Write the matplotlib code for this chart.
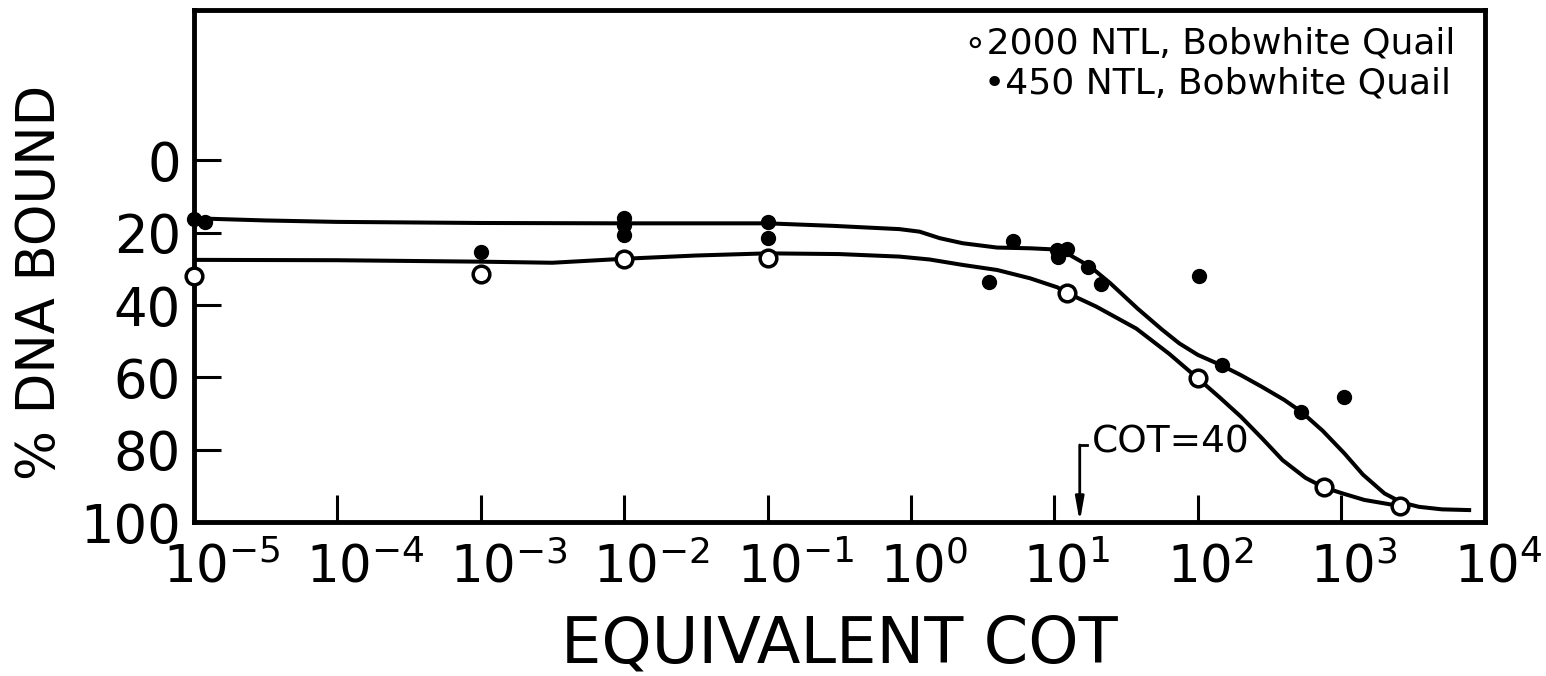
import numpy as np
import matplotlib
matplotlib.use('Agg')
import matplotlib.pyplot as plt
from matplotlib.transforms import ScaledTranslation

# open circles - 2000 NTL, Bobwhite Quail
open_x = [1e-5, 1e-3, 1e-2, 1e-1, 12.2, 100, 750, 2550]
open_y = [32.1, 31.4, 27.2, 27.1, 36.6, 60.3, 90.4, 95.6]

# filled dots - 450 NTL, Bobwhite Quail
filled_x = [1e-5, 1.2e-5, 1e-3, 1e-2, 1e-2, 1e-2, 1e-1, 1e-1, 3.5, 5.1,
            10.4, 10.6, 12.2, 17.2, 21, 102, 148, 525, 1047]
filled_y = [16.2, 16.9, 25.2, 16.0, 17.8, 20.6, 17.1, 21.5, 33.7, 22.3,
            24.8, 26.8, 24.6, 29.4, 34.2, 31.9, 56.6, 69.5, 65.5]

# hand drawn curves (log10 cot, % bound)
open_curve_logx = [-5.0, -4.0, -3.0, -2.5, -2.0, -1.5, -1.0, -0.5, -0.08, 0.13,
                   0.36, 0.6, 0.83, 1.02, 1.085, 1.29, 1.57, 1.8, 2.0, 2.15,
                   2.3, 2.45, 2.59, 2.75, 2.876, 3.0, 3.16, 3.41]
open_curve_y = [27.5, 27.6, 28.0, 28.3, 27.2, 26.3, 25.7, 25.9, 26.6, 27.4,
                28.9, 30.3, 32.6, 35.1, 36.6, 40.4, 46.5, 53.5, 60.3, 65.5,
                70.9, 77.0, 82.9, 87.8, 90.4, 92.0, 93.9, 95.6]

filled_curve_logx = [-5.0, -4.5, -4.0, -3.0, -2.0, -1.0, -0.54, -0.08, 0.06, 0.2,
                     0.36, 0.6, 0.83, 0.99, 1.1, 1.25, 1.39, 1.58, 1.75, 1.87,
                     2.0, 2.16, 2.3, 2.445, 2.6, 2.72, 2.87, 3.02, 3.15, 3.3,
                     3.42, 3.54, 3.7, 3.89]
filled_curve_y = [16.0, 16.6, 17.0, 17.3, 17.4, 17.4, 18.1, 19.0, 19.7, 21.5,
                  22.9, 24.1, 24.3, 24.6, 26.0, 29.4, 34.0, 41.0, 46.8, 50.6,
                  53.8, 56.6, 59.4, 62.6, 66.2, 69.5, 74.8, 81.0, 86.9, 92.1,
                  94.6, 95.8, 96.5, 96.7]

xtick_vals = [1e-5, 1e-4, 1e-3, 1e-2, 1e-1, 1e0, 1e1, 1e2, 1e3, 1e4]
xtick_labels = [r'$10^{-5}$', r'$10^{-4}$', r'$10^{-3}$', r'$10^{-2}$', r'$10^{-1}$',
                r'$10^{0}$', r'$10^{1}$', r'$10^{2}$', r'$10^{3}$', r'$10^{4}$']
ytick_vals = [0, 20, 40, 60, 80, 100]

cot_arrow_x = 15
cot_text = 'COT=40'

fig = plt.figure(figsize=(15.46, 6.76), dpi=100)
ax = fig.add_axes([0.1252, 0.2278, 0.8353, 0.7574])

ax.plot(10 ** np.array(open_curve_logx), open_curve_y, color='black', lw=2.9,
        solid_joinstyle='round', zorder=2)
ax.plot(10 ** np.array(filled_curve_logx), filled_curve_y, color='black', lw=2.9,
        solid_joinstyle='round', zorder=2)

ax.plot(open_x, open_y, 'o', ms=12, mfc='white', mec='black', mew=2.5,
        clip_on=False, zorder=4)
ax.plot(filled_x, filled_y, 'o', ms=10, color='black', clip_on=False, zorder=4)

ax.set_xscale('log')
ax.set_xlim(1e-5, 1e4)
ax.set_ylim(100, -41.6)

ax.set_xticks(xtick_vals)
ax.set_xticklabels(xtick_labels, fontsize=37, ha='left')
ax.minorticks_off()
ax.set_yticks(ytick_vals)
ax.set_yticklabels([str(v) for v in ytick_vals], fontsize=38)
ax.tick_params(axis='both', direction='in', length=19.5, width=2.2,
               top=False, right=False)
ax.tick_params(axis='x', pad=15)
ax.tick_params(axis='y', pad=9)

# shift x labels so the "10" sits on the tick
shift = ScaledTranslation(-0.31, 0, fig.dpi_scale_trans)
for lab in ax.get_xticklabels():
    lab.set_transform(lab.get_transform() + shift)

for sp in ax.spines.values():
    sp.set_linewidth(3.5)

ax.set_xlabel('EQUIVALENT COT', fontsize=46)
ax.xaxis.set_label_coords(0.5, -0.24)
ax.xaxis.label.set_va('center')
ax.set_ylabel('% DNA BOUND', fontsize=38)
ax.yaxis.set_label_coords(-0.119, 0.469)
ax.yaxis.label.set_va('center')

# legend as text lines
ax.text(0.977, 0.934, '\u22182000 NTL, Bobwhite Quail', transform=ax.transAxes,
        ha='right', va='center', fontsize=26)
ax.text(0.974, 0.857, '\u2022450 NTL, Bobwhite Quail', transform=ax.transAxes,
        ha='right', va='center', fontsize=26)

# COT=40 marker
ax.annotate('', xy=(cot_arrow_x, 100), xytext=(cot_arrow_x, 78.7),
            arrowprops=dict(arrowstyle='-|>,head_length=1.4,head_width=0.25',
                            lw=2, color='black', shrinkA=0, shrinkB=0))
ax.plot([cot_arrow_x, cot_arrow_x * 1.12], [78.7, 78.7], color='black', lw=2)
ax.text(18.3, 78.1, cot_text, fontsize=27, ha='left', va='center')

fig.savefig('out.png', dpi=100)
